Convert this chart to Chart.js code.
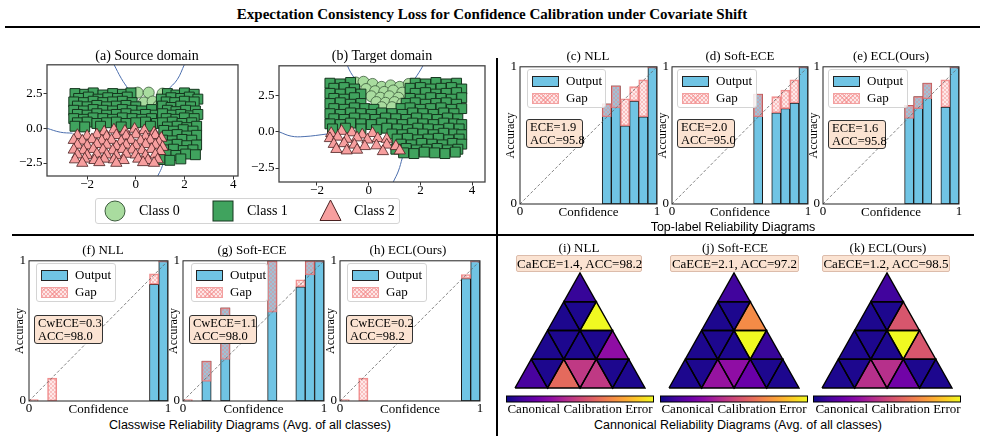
<!DOCTYPE html>
<html>
<head>
<meta charset="utf-8">
<script src="https://cdn.jsdelivr.net/npm/chart.js@4.4.1/dist/chart.umd.min.js"></script>
<style>
body { margin: 0; background: #fff; }
#fig { position: relative; width: 985px; height: 440px; overflow: hidden; font-family: "Liberation Serif", "Times New Roman", serif; color: #000; }
#fig canvas { position: absolute; z-index: 1; }
.t { position: absolute; white-space: nowrap; transform: translate(-50%, -50%); z-index: 3; font-size: 13px; }
.sans { font-family: "Liberation Sans", Arial, sans-serif; }
.rule { position: absolute; background: #000; z-index: 3; }
.leg { position: absolute; background: rgba(255,255,255,0.85); border: 1px solid #d4d4d4; border-radius: 3px; z-index: 3; box-sizing: border-box; }
.box { position: absolute; background: #fbe3d2; border: 1.2px solid #333; border-radius: 3px; z-index: 3; font-size: 12.5px; line-height: 13px; padding: 0 3px; box-sizing: border-box; white-space: nowrap; }
.cbox { position: absolute; background: #fbe3d2; border: 1px solid #dcbcab; border-radius: 2px; z-index: 3; font-size: 13px; line-height: 15px; text-align: center; box-sizing: border-box; white-space: nowrap; }
</style>
</head>
<body>
<div id="fig">
  <div class="t" style="left:492px;top:14px;font-weight:bold;font-size:15px;">Expectation Consistency Loss for Confidence Calibration under Covariate Shift</div>
  <div class="rule" style="left:5px;top:26px;width:975px;height:2px;"></div>
  <div class="rule" style="left:12px;top:234px;width:962px;height:2px;"></div>
  <div class="rule" style="left:496px;top:58px;width:2px;height:378px;"></div>

  <div class="t" style="left:147px;top:56px;font-size:14px;">(a) Source domain</div>
  <div class="t" style="left:382px;top:56px;font-size:14px;">(b) Target domain</div>
  <div class="t" style="left:588px;top:56px;">(c) NLL</div>
  <div class="t" style="left:740px;top:56px;">(d) Soft-ECE</div>
  <div class="t" style="left:891px;top:56px;">(e) ECL(Ours)</div>
  <div class="t" style="left:103px;top:250px;">(f) NLL</div>
  <div class="t" style="left:252px;top:250px;">(g) Soft-ECE</div>
  <div class="t" style="left:408px;top:250px;">(h) ECL(Ours)</div>
  <div class="t" style="left:579px;top:248px;">(i) NLL</div>
  <div class="t" style="left:735px;top:248px;">(j) Soft-ECE</div>
  <div class="t" style="left:888px;top:248px;">(k) ECL(Ours)</div>

  <div class="t sans" style="left:733px;top:227px;font-size:12.5px;">Top-label Reliability Diagrams</div>
  <div class="t sans" style="left:250px;top:425px;font-size:12.5px;">Classwise Reliability Diagrams (Avg. of all classes)</div>
  <div class="t sans" style="left:738px;top:425px;font-size:12.5px;">Cannonical Reliability Diagrams (Avg. of all classes)</div>

  <div class="t" style="left:580px;top:409px;">Canonical Calibration Error</div>
  <div class="t" style="left:734px;top:409px;">Canonical Calibration Error</div>
  <div class="t" style="left:888px;top:409px;">Canonical Calibration Error</div>

  <div class="cbox" style="left:516px;top:255px;width:126px;height:17px;">CaECE=1.4, ACC=98.2</div>
  <div class="cbox" style="left:670px;top:255px;width:129px;height:17px;">CaECE=2.1, ACC=97.2</div>
  <div class="cbox" style="left:822px;top:255px;width:128px;height:17px;">CaECE=1.2, ACC=98.5</div>

  <div class="leg" style="left:95px;top:198px;width:305px;height:26px;">
    <svg style="position:absolute;left:8px;top:1px;" width="22" height="22"><circle cx="11" cy="11" r="10" fill="#a9dc9f" stroke="#3c5c3c" stroke-width="1"/></svg>
    <span style="position:absolute;left:43px;top:4px;font-size:14px;">Class 0</span>
    <svg style="position:absolute;left:116px;top:1px;" width="22" height="22"><rect x="1" y="1" width="20" height="20" fill="#40a35e" stroke="#15361e" stroke-width="1"/></svg>
    <span style="position:absolute;left:151px;top:4px;font-size:14px;">Class 1</span>
    <svg style="position:absolute;left:223px;top:0px;" width="23" height="23"><polygon points="11.5,1 22,21.5 1,21.5" fill="#f79f9f" stroke="#4a2020" stroke-width="1"/></svg>
    <span style="position:absolute;left:258px;top:4px;font-size:14px;">Class 2</span>
  </div>
</div>

<script>
// ---------------- data ----------------
const binCount = 15;

// top-label reliability: bin index, accuracy, mean confidence
const binsC = [9, 10, 11, 12, 13, 14];
const accC  = [0.73, 0.862, 0.569, 0.75, 0.636, 1.0];
const confC = [0.636, 0.70, 0.767, 0.855, 0.905, 0.99];
const binsD = [9, 11, 12, 13, 14];
const accD  = [0.802, 0.664, 0.695, 0.736, 1.0];
const confD = [0.636, 0.783, 0.83, 0.905, 0.99];
const binsE = [9, 10, 11, 13, 14];
const accE  = [0.719, 0.783, 0.881, 0.707, 1.0];
const confE = [0.624, 0.695, 0.767, 0.905, 0.99];

// classwise reliability
const binsF = [0, 2, 13, 14];
const accF  = [0, 0, 0.832, 1.0];
const confF = [0.01, 0.163, 0.907, 0.99];
const binsG = [0, 2, 4, 9, 12, 13, 14];
const accG  = [0, 0.284, 0.664, 1.0, 0.814, 1.0, 1.0];
const confG = [0.01, 0.14, 0.296, 0.634, 0.865, 0.9, 0.99];
const binsH = [0, 2, 13, 14];
const accH  = [0, 0, 0.874, 1.0];
const confH = [0.01, 0.163, 0.902, 0.99];

const eceText = {
  c: ['ECE=1.9', 'ACC=95.8'], d: ['ECE=2.0', 'ACC=95.0'], e: ['ECE=1.6', 'ACC=95.8'],
  f: ['CwECE=0.3', 'ACC=98.0'], g: ['CwECE=1.1', 'ACC=98.0'], h: ['CwECE=0.2', 'ACC=98.2']
};

// canonical calibration error per simplex cell, rows top -> bottom, cells left -> right
const cellsI = [[0.08], [0.03, 0.03, 1.0], [0.03, 0.03, 0.03, 0.03, 0.3], [0.12, 0.03, 0.62, 0.45, 0.45, 0.03, 0.03]];
const cellsJ = [[0.1], [0.03, 0.03, 0.72], [0.03, 0.03, 0.03, 1.0, 0.08], [0.03, 0.03, 0.32, 0.3, 0.2, 0.03, 0.03]];
const cellsK = [[0.1], [0.03, 0.03, 0.55], [0.03, 0.03, 0.03, 1.0, 0.55], [0.03, 0.03, 0.42, 0.42, 0.22, 0.03, 0.03]];

// toy data, source domain
const sqA = [[-2.5,2.5],[-2.1,2.45],[-1.75,2.55],[-1.35,2.4],[-0.95,2.5],[-0.55,2.45],[-0.2,2.55],[1.3,2.5],[1.65,2.4],[2.0,2.55],[2.4,2.45],
  [-2.35,2.15],[-1.95,2.25],[-1.55,2.1],[-1.15,2.2],[-0.75,2.15],[-0.35,2.25],[1.05,2.1],[1.45,2.2],[1.85,2.15],[2.2,2.25],[2.55,2.1],
  [-2.55,1.9],[-2.15,1.85],[-1.75,1.95],[-1.35,1.85],[-0.95,1.9],[-0.55,1.95],[-0.15,1.85],[1.25,1.9],[1.6,1.85],[2.0,1.95],[2.4,1.9],
  [-2.4,1.6],[-2.0,1.55],[-1.6,1.65],[-1.2,1.55],[-0.8,1.6],[-0.4,1.65],[0.0,1.55],[1.1,1.6],[1.45,1.5],[1.85,1.6],[2.25,1.55],
  [-2.55,1.3],[-2.15,1.25],[-1.75,1.35],[-1.35,1.3],[-0.95,1.25],[-0.55,1.35],[-0.15,1.3],[0.25,1.25],[0.65,1.35],[1.3,1.3],[1.65,1.2],[2.05,1.3],[2.45,1.25],
  [-2.4,1.0],[-2.0,0.95],[-1.6,1.05],[-1.2,0.95],[-0.8,1.0],[-0.4,1.05],[0.0,0.95],[0.4,1.0],[0.8,0.95],[1.1,1.05],[1.5,0.95],[1.85,1.0],[2.25,0.9],[2.55,1.0],
  [-2.55,0.7],[-2.15,0.65],[-1.75,0.75],[-1.35,0.7],[-0.95,0.65],[-0.55,0.75],[-0.15,0.7],[0.25,0.65],[0.65,0.7],[1.25,0.7],[1.65,0.65],[2.0,0.75],[2.4,0.7],
  [-2.4,0.4],[-2.0,0.45],[-1.6,0.35],[-1.2,0.4],[-0.8,0.45],[-0.4,0.35],[0.0,0.4],[0.4,0.45],[0.85,0.35],[1.1,0.4],[1.5,0.45],[1.9,0.35],[2.3,0.4],
  [-2.5,0.15],[-2.1,0.1],[-1.45,0.15],[-0.6,0.1],[0.6,0.15],[1.3,0.1],[1.7,0.15],[2.1,0.05],[2.5,0.15],
  [1.15,-0.15],[1.55,-0.2],[1.95,-0.1],[2.35,-0.2],[1.3,-0.5],[1.7,-0.45],[2.1,-0.55],[2.5,-0.5],
  [1.1,-0.85],[1.5,-0.9],[1.9,-0.8],[2.3,-0.85],[1.3,-1.2],[1.7,-1.15],[2.1,-1.25],[2.5,-1.2],
  [1.15,-1.55],[1.55,-1.5],[1.95,-1.6],[2.35,-1.55],[1.25,-1.9],[1.65,-1.95],[2.05,-1.85],[2.45,-1.9],
  [1.0,-2.25],[1.4,-2.3],[1.85,-2.2]];
const ciA = [[0.08,2.57],[0.53,2.57],[1.1,2.5],[0.33,1.86],[0.69,1.93],[0.94,1.64],[1.3,1.5]];
const trA = [[-1.3,-0.25],[-0.9,-0.1],[-0.45,-0.2],[-0.05,-0.05],[0.35,-0.15],[0.75,-0.3],
  [-2.4,-0.5],[-2.0,-0.55],[-1.6,-0.45],[-1.2,-0.6],[-0.8,-0.5],[-0.4,-0.55],[0.0,-0.45],[0.4,-0.6],[0.8,-0.5],[1.05,-0.7],
  [-2.55,-0.85],[-2.2,-0.9],[-1.8,-0.8],[-1.4,-0.9],[-1.0,-0.85],[-0.6,-0.95],[-0.2,-0.85],[0.2,-0.9],[0.6,-0.85],[0.95,-1.0],
  [-2.4,-1.2],[-2.0,-1.25],[-1.6,-1.15],[-1.2,-1.2],[-0.8,-1.3],[-0.4,-1.2],[0.0,-1.25],[0.4,-1.15],[0.8,-1.2],[1.1,-1.35],
  [-2.55,-1.55],[-2.15,-1.6],[-1.75,-1.5],[-1.35,-1.55],[-0.95,-1.6],[-0.55,-1.5],[-0.15,-1.55],[0.25,-1.6],[0.65,-1.5],[1.0,-1.65],
  [-2.4,-1.9],[-2.0,-1.95],[-1.6,-1.85],[-1.2,-1.9],[-0.8,-1.95],[-0.4,-1.85],[0.0,-1.9],[0.4,-1.95],[0.8,-1.9],
  [-2.5,-2.25],[-2.1,-2.2],[-1.7,-2.3],[-1.3,-2.2],[-0.9,-2.25],[-0.5,-2.3],[0.1,-2.2],[0.5,-2.3],[0.9,-2.25],
  [-2.2,-2.5],[-1.5,-2.45],[-0.8,-2.5],[0.3,-2.45],[0.75,-2.5]];
const edgeA = [
  [[-0.9,4.6],[-0.6,3.6],[-0.3,2.8]],
  [[2.0,4.6],[1.7,3.5],[1.3,2.75]],
  [[-3.65,0.0],[-3.1,-0.28],[-2.6,-0.35]],
  [[0.9,-3.43],[1.05,-2.9],[1.15,-2.4]]];

// toy data, target domain
const sqB = [[-1.5,3.35],[-1.1,3.3],[-0.7,3.4],[1.8,3.35],[2.2,3.3],[2.6,3.4],[3.0,3.3],[3.4,3.35],
  [-1.35,3.0],[-0.95,3.05],[-0.55,2.95],[1.6,3.0],[2.0,3.05],[2.4,2.95],[2.8,3.0],[3.2,3.05],[3.6,2.95],
  [-1.5,2.65],[-1.1,2.6],[-0.7,2.7],[-0.3,2.6],[1.8,2.65],[2.2,2.7],[2.6,2.6],[3.0,2.65],[3.4,2.7],
  [-1.35,2.3],[-0.95,2.25],[-0.55,2.35],[1.6,2.3],[2.0,2.25],[2.4,2.35],[2.8,2.3],[3.2,2.25],[3.6,2.35],
  [-1.5,1.95],[-1.1,2.0],[-0.7,1.9],[-0.3,1.95],[1.45,1.95],[1.8,2.0],[2.2,1.9],[2.6,1.95],[3.0,2.0],[3.4,1.9],
  [-1.35,1.6],[-0.95,1.55],[-0.55,1.65],[-0.15,1.6],[0.2,1.55],[1.25,1.6],[1.6,1.65],[2.0,1.55],[2.4,1.6],[2.8,1.65],[3.2,1.55],[3.6,1.6],
  [-1.5,1.25],[-1.1,1.2],[-0.7,1.3],[-0.3,1.25],[0.1,1.2],[0.5,1.3],[0.9,1.25],[1.3,1.2],[1.7,1.3],[2.1,1.25],[2.5,1.2],[2.9,1.3],[3.3,1.25],
  [-1.35,0.9],[-0.95,0.85],[-0.55,0.95],[-0.15,0.9],[0.25,0.85],[0.65,0.95],[1.05,0.9],[1.45,0.85],[1.85,0.95],[2.25,0.9],[2.65,0.85],[3.05,0.95],[3.45,0.9],
  [-1.5,0.55],[-1.1,0.5],[-0.7,0.6],[-0.3,0.55],[0.1,0.5],[0.5,0.6],[0.9,0.55],[1.3,0.5],[1.7,0.6],[2.1,0.55],[2.5,0.5],[2.9,0.6],[3.3,0.55],[3.6,0.5],
  [-1.4,0.2],[-0.9,0.25],[-0.3,0.2],[0.3,0.15],[0.7,0.25],[1.1,0.2],[1.5,0.15],[1.9,0.25],[2.3,0.2],[2.7,0.15],[3.1,0.25],[3.5,0.2],
  [0.9,-0.15],[1.3,-0.2],[1.7,-0.1],[2.1,-0.15],[2.5,-0.2],[2.9,-0.1],[3.3,-0.15],[3.6,-0.2],
  [1.1,-0.5],[1.5,-0.45],[1.9,-0.55],[2.3,-0.5],[2.7,-0.45],[3.1,-0.55],[3.5,-0.5],
  [1.25,-0.85],[1.65,-0.9],[2.05,-0.8],[2.45,-0.85],[2.85,-0.9],[3.25,-0.8],[3.6,-0.85],
  [1.05,-1.2],[1.45,-1.15],[1.85,-1.25],[2.25,-1.2],[2.65,-1.15],[3.05,-1.25],[3.45,-1.2],
  [1.35,-1.45],[1.75,-1.5],[2.15,-1.4],[2.55,-1.45],[2.95,-1.5],[3.35,-1.4]];
const ciB = [[-0.5,3.4],[-0.2,3.45],[0.15,3.3],[0.5,3.1],[0.85,3.2],[1.2,3.1],[1.55,3.3],
  [-0.1,2.95],[0.25,2.8],[0.6,2.75],[0.95,2.85],[1.3,2.7],
  [0.1,2.45],[0.45,2.35],[0.8,2.45],[1.15,2.35],
  [0.3,2.05],[0.65,2.0],[1.0,2.05],[1.3,1.95],[0.5,1.7],[0.9,1.7]];
const trB = [[-1.45,-0.1],[-1.05,0.05],[-0.65,-0.05],[-0.25,-0.2],[0.15,-0.1],
  [-1.5,-0.45],[-1.2,-0.35],[-0.85,-0.5],[-0.45,-0.4],[-0.05,-0.55],[0.35,-0.45],[0.7,-0.5],
  [-1.35,-0.85],[-0.95,-0.8],[-0.55,-0.9],[-0.15,-1.0],[0.3,-0.95],[0.7,-0.9],[1.05,-1.0],
  [-1.25,-1.2],[-0.85,-1.3],[-0.45,-1.25],[0.55,-1.35],[1.2,-1.3]];
const edgeB = [
  [[-0.82,4.55],[-0.7,4.1],[-0.55,3.7]],
  [[2.1,4.55],[1.95,4.1],[1.8,3.7]],
  [[-3.47,0.0],[-3.0,-0.3],[-2.5,-0.33],[-1.6,-0.15]],
  [[0.95,-3.46],[1.15,-2.7],[1.3,-1.8]]];

const xTicksAB = [-2, 0, 2, 4];
const yTicksAB = [-2.5, 0, 2.5];

// ---------------- drawing ----------------
const SERIF = '"Liberation Serif", "Times New Roman", serif';
const fig = document.getElementById('fig');
const plasma = ['#0d0887','#41049d','#6a00a8','#8f0da4','#b12a90','#cc4778','#e16462','#f2844b','#fca636','#fcce25','#f0f921'];
const blue = '#70c4e4';

function hexRgb(h) { return [1, 3, 5].map(i => parseInt(h.substr(i, 2), 16)); }
function cmap(v) {
  v = Math.max(0, Math.min(1, v));
  const p = v * 10, i = Math.min(9, Math.floor(p)), f = p - i;
  const a = hexRgb(plasma[i]), b = hexRgb(plasma[i + 1]);
  return 'rgb(' + a.map((c, k) => Math.round(c + (b[k] - c) * f)).join(',') + ')';
}

// hatched pink fill for the gap bars
function makeHatch() {
  const c = document.createElement('canvas');
  c.width = 4; c.height = 4;
  const x = c.getContext('2d');
  x.fillStyle = 'rgba(252,190,190,0.35)';
  x.fillRect(0, 0, 4, 4);
  x.strokeStyle = 'rgba(242,130,130,0.55)';
  x.lineWidth = 0.7;
  x.beginPath();
  x.moveTo(0, 0); x.lineTo(4, 4);
  x.moveTo(4, 0); x.lineTo(0, 4);
  x.stroke();
  return x.createPattern(c, 'repeat');
}
const hatch = makeHatch();

const framePlugin = {
  id: 'frame',
  afterDatasetsDraw(chart, args, opts) {
    const a = chart.chartArea, c = chart.ctx;
    c.save();
    c.strokeStyle = opts.color || '#222';
    c.lineWidth = opts.width || 1;
    c.strokeRect(a.left, a.top, a.right - a.left, a.bottom - a.top);
    c.restore();
  }
};

const cbarPlugin = {
  id: 'cbar',
  afterDraw(chart) {
    const a = chart.chartArea, c = chart.ctx;
    const x0 = (a.left + a.right) / 2 - 73.5, w = 147, y0 = a.bottom + 8, h = 6;
    const g = c.createLinearGradient(x0, 0, x0 + w, 0);
    plasma.forEach((col, i) => g.addColorStop(i / 10, col));
    c.save();
    c.fillStyle = g;
    c.fillRect(x0, y0, w, h);
    c.strokeStyle = '#000';
    c.lineWidth = 1;
    c.strokeRect(x0, y0, w, h);
    c.restore();
  }
};

function place(box, l, t, r, b) {
  const cv = document.createElement('canvas');
  cv.width = box[2] + l + r;
  cv.height = box[3] + t + b;
  cv.style.left = (box[0] - l) + 'px';
  cv.style.top = (box[1] - t) + 'px';
  cv.style.width = cv.width + 'px';
  cv.style.height = cv.height + 'px';
  fig.appendChild(cv);
  return cv;
}

function addDiv(cls, css, html) {
  const d = document.createElement('div');
  d.className = cls;
  Object.assign(d.style, css);
  d.innerHTML = html;
  fig.appendChild(d);
  return d;
}

function relLegend(x, y, w) {
  addDiv('leg', { left: x + 'px', top: y + 'px', width: w + 'px', height: '39px' },
    '<div style="position:absolute;left:4px;top:6px;width:25px;height:9px;background:' + blue + ';border:1px solid #222;"></div>' +
    '<span style="position:absolute;left:38px;top:3px;font-size:13px;">Output</span>' +
    '<div style="position:absolute;left:4px;top:23px;width:25px;height:9px;border:1px solid #f2a0a0;' +
    'background:repeating-linear-gradient(45deg,rgba(242,130,130,0.55) 0 1px,transparent 1px 3px),repeating-linear-gradient(-45deg,rgba(242,130,130,0.55) 0 1px,transparent 1px 3px),#fde6e6;"></div>' +
    '<span style="position:absolute;left:38px;top:20px;font-size:13px;">Gap</span>');
}

function relChart(key, box, bins, acc, conf, leg, ebox) {
  const padL = 16, padT = 8, padR = 8, padB = 16;
  const cv = place(box, padL, padT, padR, padB);
  const centers = bins.map(b => (b + 0.5) / binCount);
  new Chart(cv, {
    type: 'bar',
    data: {
      datasets: [
        { type: 'line', data: [{ x: 0, y: 0 }, { x: 1, y: 1 }], borderColor: '#666', borderWidth: 0.8,
          borderDash: [3, 2], pointRadius: 0, order: 0 },
        { label: 'Gap', data: centers.map((c, i) => ({ x: c, y: [acc[i], conf[i]] })), backgroundColor: hatch,
          borderColor: 'rgba(235,110,110,0.8)', borderWidth: 1, borderSkipped: false, grouped: false,
          barPercentage: 1, categoryPercentage: 1, order: 1 },
        { label: 'Output', data: centers.map((c, i) => ({ x: c, y: acc[i] })), backgroundColor: blue,
          borderColor: '#1a1a1a', borderWidth: 1, borderSkipped: false, grouped: false,
          barPercentage: 1, categoryPercentage: 1, order: 2 }
      ]
    },
    options: {
      responsive: false, animation: false,
      layout: { padding: { top: padT, right: padR, left: 0, bottom: 0 } },
      plugins: { legend: { display: false }, tooltip: { enabled: false }, frame: { color: '#222', width: 1 } },
      scales: {
        x: { type: 'linear', min: 0, max: 1, offset: false, grid: { display: false, drawTicks: false }, border: { display: false },
             afterBuildTicks: s => { s.ticks = [{ value: 0 }, { value: 1 }]; },
             afterFit: s => { s.height = padB; },
             ticks: { padding: 0, maxRotation: 0, autoSkip: false, color: '#000', font: { family: SERIF, size: 13 } },
             title: { display: true, text: 'Confidence', padding: 0, color: '#000', font: { family: SERIF, size: 13 } } },
        y: { type: 'linear', min: 0, max: 1, grid: { display: false, drawTicks: false }, border: { display: false },
             afterBuildTicks: s => { s.ticks = [{ value: 0 }, { value: 1 }]; },
             afterFit: s => { s.width = padL; },
             ticks: { padding: 3, color: '#000', font: { family: SERIF, size: 13 } },
             title: { display: true, text: 'Accuracy', padding: 0, color: '#000', font: { family: SERIF, size: 12 } } }
      }
    },
    plugins: [framePlugin]
  });
  relLegend(box[0] + leg[0], box[1] + leg[1], leg[2]);
  addDiv('box', { left: (box[0] + ebox[0]) + 'px', top: (box[1] + ebox[1]) + 'px', width: ebox[2] + 'px', height: '29px', paddingTop: '1px' },
    eceText[key][0] + '<br>' + eceText[key][1]);
}

function fmtMinus(v, d) { return (v < 0 ? '\u2212' : '') + Math.abs(v).toFixed(d); }

function scatChart(box, xr, yr, sq, ci, tr, edges) {
  const padL = 34, padT = 8, padR = 8, padB = 20;
  const cv = place(box, padL, padT, padR, padB);
  const pts = a => a.map(p => ({ x: p[0], y: p[1] }));
  const ds = [
    { label: 'Class 2', data: pts(tr), pointStyle: 'triangle', pointRadius: 6.5, backgroundColor: '#f79f9f',
      borderColor: '#4a2020', borderWidth: 0.8, order: 1 },
    { label: 'Class 1', data: pts(sq), pointStyle: 'rect', pointRadius: 7, backgroundColor: '#40a35e',
      borderColor: '#15361e', borderWidth: 1, order: 2 },
    { label: 'Class 0', data: pts(ci), pointStyle: 'circle', pointRadius: 5.5, backgroundColor: '#a9dc9f',
      borderColor: '#3c5c3c', borderWidth: 0.8, order: 3 }
  ];
  edges.forEach(e => ds.push({ type: 'line', data: pts(e), borderColor: '#4c6fae', borderWidth: 1,
    pointRadius: 0, tension: 0.4, showLine: true, order: 4 }));
  const tickStyle = { color: '#000', font: { family: SERIF, size: 13 } };
  new Chart(cv, {
    type: 'scatter',
    data: { datasets: ds },
    options: {
      responsive: false, animation: false,
      layout: { padding: { top: padT, right: padR, left: 0, bottom: 0 } },
      plugins: { legend: { display: false }, tooltip: { enabled: false }, frame: { color: '#444', width: 1.3 } },
      scales: {
        x: { type: 'linear', min: xr[0], max: xr[1], border: { display: false },
             grid: { drawOnChartArea: false, drawTicks: true, tickLength: 3.5, color: '#333' },
             afterBuildTicks: s => { s.ticks = xTicksAB.map(v => ({ value: v })); },
             afterFit: s => { s.height = padB; },
             ticks: Object.assign({ padding: -3, maxRotation: 0, autoSkip: false, callback: v => fmtMinus(v, 0) }, tickStyle) },
        y: { type: 'linear', min: yr[0], max: yr[1], border: { display: false },
             grid: { drawOnChartArea: false, drawTicks: true, tickLength: 3.5, color: '#333' },
             afterBuildTicks: s => { s.ticks = yTicksAB.map(v => ({ value: v })); },
             afterFit: s => { s.width = padL; },
             ticks: Object.assign({ padding: 1, callback: v => fmtMinus(v, 1) }, tickStyle) }
      }
    },
    plugins: [framePlugin]
  });
}

function ternChart(cx, cells) {
  const box = [cx - 65, 273, 130, 115];
  const padL = 14, padT = 6, padR = 14, padB = 20;
  const cv = place(box, padL, padT, padR, padB);
  const H = Math.sqrt(3) / 2, n = cells.length;
  const ds = [];
  cells.forEach((row, k) => {
    const yTop = H * (1 - k / n), yBot = H * (1 - (k + 1) / n);
    row.forEach((v, j) => {
      const m = Math.floor(j / 2);
      let tri;
      if (j % 2 === 0) {
        const x0 = 0.5 - (k + 1) / (2 * n) + m / n;
        tri = [[x0, yBot], [x0 + 1 / n, yBot], [x0 + 0.5 / n, yTop]];
      } else {
        const x0 = 0.5 - k / (2 * n) + m / n;
        tri = [[x0, yTop], [x0 + 1 / n, yTop], [x0 + 0.5 / n, yBot]];
      }
      tri.push(tri[0]);
      ds.push({ data: tri.map(p => ({ x: p[0], y: p[1] })), backgroundColor: cmap(v), borderColor: '#000',
        borderWidth: 1.4, fill: 'shape', pointRadius: 0, tension: 0, clip: false });
    });
  });
  new Chart(cv, {
    type: 'line',
    data: { datasets: ds },
    options: {
      responsive: false, animation: false,
      layout: { padding: { left: padL, right: padR, top: padT, bottom: padB } },
      plugins: { legend: { display: false }, tooltip: { enabled: false }, filler: { drawTime: 'beforeDatasetsDraw' } },
      scales: {
        x: { type: 'linear', min: 0, max: 1, display: false },
        y: { type: 'linear', min: 0, max: H, display: false }
      }
    },
    plugins: [cbarPlugin]
  });
}

scatChart([47, 64, 191, 112], [-3.65, 4.2], [-3.43, 4.57], sqA, ciA, trA, edgeA);
scatChart([279, 65, 206, 117], [-3.47, 4.5], [-3.46, 4.55], sqB, ciB, trB, edgeB);

relChart('c', [520, 64, 137, 140], binsC, accC, confC, [7, 5, 79], [6, 55, 57]);
relChart('d', [672, 64, 136, 140], binsD, accD, confD, [5, 5, 80], [5, 55, 58]);
relChart('e', [823, 64, 136, 140], binsE, accE, confE, [5, 5, 80], [5, 56, 58]);
relChart('f', [29, 258, 139, 143], binsF, accF, confF, [7, 5, 80], [5, 57, 69]);
relChart('g', [183, 258, 141, 143], binsG, accG, confG, [8, 5, 77], [6, 57, 68]);
relChart('h', [340, 258, 140, 143], binsH, accH, confH, [7, 5, 80], [6, 57, 67]);

ternChart(580, cellsI);
ternChart(734, cellsJ);
ternChart(887, cellsK);
</script>
</body>
</html>
